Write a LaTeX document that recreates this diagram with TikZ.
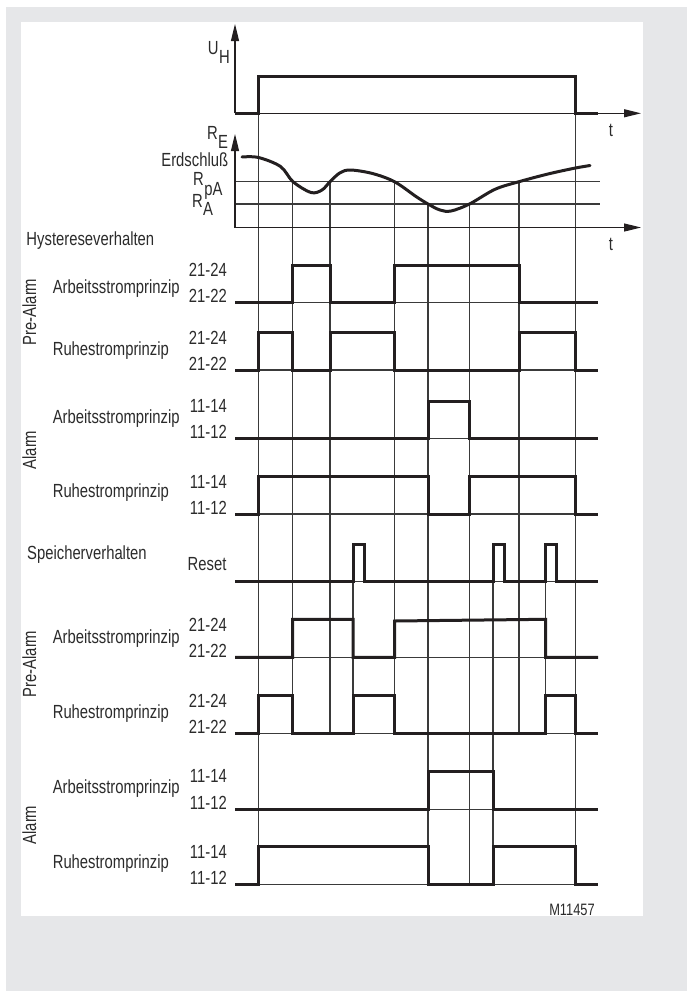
\documentclass[tikz,border=0pt]{standalone}
\usepackage{fontspec}
\setmainfont[FakeStretch=0.78]{Liberation Sans}
\usetikzlibrary{arrows.meta}
\definecolor{bggray}{HTML}{E6E7E9}
\definecolor{sig}{HTML}{231F20}
\definecolor{gridc}{HTML}{3A3A3A}
\definecolor{txt}{HTML}{2B2B2B}
\begin{document}
\begin{tikzpicture}[x=1pt,y=-1pt,
  sigline/.style={line width=3pt, draw=sig, line join=miter, line cap=butt},
  thinline/.style={line width=1.2pt, draw=gridc},
  axisarrow/.style={line width=1.2pt, draw=sig, -{Triangle[length=17pt,width=8pt]}},
  lbl/.style={font=\fontsize{19}{21}\selectfont, text=txt, inner sep=0pt},
  small/.style={font=\fontsize{16.5}{18}\selectfont, text=txt, inner sep=0pt}]
\useasboundingbox (0,0) rectangle (687,991);
\fill[bggray] (6,7) rectangle (687,991);
\fill[white] (21,22) rectangle (643,915.7);

% x positions
\def\Xa{258.5}\def\Xb{292.5}\def\Xc{330}\def\Xd{394.5}
\def\Xe{428}\def\Xf{469.5}\def\Xg{519}\def\Xh{575.5}
\def\Sa{353}\def\Sb{493}\def\Sc{545.5}
\def\Sae{364}\def\Sbe{504}\def\Sce{556.5}
\def\XL{235}\def\XR{598}

% ---------- vertical grid lines ----------
\draw[thinline] (\Xa,76) -- (\Xa,884.5);
\draw[thinline] (\Xh,76) -- (\Xh,884.5);
\foreach \xx in {\Xb,\Xc,\Xd,\Xg} \draw[thinline] (\xx,181.7) -- (\xx,733.3);
\foreach \xx in {\Xe,\Xf} \draw[thinline] (\xx,204) -- (\xx,884.5);
\foreach \xx in {\Sa,\Sc} \draw[thinline] (\xx,544.3) -- (\xx,733.3);
\draw[thinline] (\Sb,544.3) -- (\Sb,884.5);

% ---------- U_H diagram ----------
\coordinate (uo) at (\XL,113.3);
\coordinate (utop) at (\XL,24);
\coordinate (uend) at (641,113.3);
\draw[axisarrow] (uo) -- (utop);
\draw[axisarrow] (uo) -- (uend);
\draw[sigline] (\XL,113.3) -- (\Xa,113.3) -- (\Xa,76) -- (\Xh,76) -- (\Xh,113.3) -- (\XR,113.3);
\node[lbl, anchor=base east] (uh) at (230,54) {U\kern0.5pt\raisebox{-9.5pt}{H}};
\node[lbl, anchor=base] (t1) at (611,136.7) {t};

% ---------- R_E diagram ----------
\coordinate (ro) at (\XL,227.5);
\coordinate (rtop) at (\XL,134);
\coordinate (rend) at (641,227.5);
\draw[thinline] (\XL,181.7) -- (600,181.7);
\draw[thinline] (\XL,204) -- (600,204);
\draw[axisarrow] (ro) -- (rtop);
\draw[axisarrow] (ro) -- (rend);
\draw[sigline, line cap=round, line join=round] plot[smooth, tension=0.55] coordinates {
 (242,157) (258.5,157.5) (280.5,166.5) (293,181.7) (311,192.5) (322,190) (330,181.7)
 (340,172.8) (350.5,170) (372.5,173.5) (394.5,181.7) (416,196.5) (428,204)
 (440,210) (451,211) (469.5,204) (495,189.3) (519,181.7) (548,174) (574,168.3) (590,165.5)};
\node[lbl, anchor=base east] (re) at (228.3,139.5) {R\kern0.5pt\raisebox{-8.5pt}{E}};
\node[lbl, anchor=base east] (erd) at (228.3,166.5) {Erdschluß};
\node[lbl, anchor=base east] (rpa) at (222.7,185) {R\kern0.5pt\raisebox{-10.5pt}{pA}};
\node[lbl, anchor=base east] (ra) at (213.3,207) {R\kern0.5pt\raisebox{-8.5pt}{A}};
\node[lbl, anchor=base] (t2) at (611,250) {t};

% ---------- Hystereseverhalten ----------
\node[lbl, anchor=base west] (hyst) at (26.3,245) {Hystereseverhalten};

% Pre-Alarm Arbeitsstrom (hi 265, lo 302.3)
\draw[thinline] (\XL,302.3) -- (\XR,302.3);
\draw[sigline] (\XL,302.3) -- (\Xb,302.3) -- (\Xb,265) -- (\Xc,265) -- (\Xc,302.3) -- (\Xd,302.3) -- (\Xd,265) -- (\Xg,265) -- (\Xg,302.3) -- (\XR,302.3);
\node[lbl, anchor=base west] (h1) at (52.6,293.7) {Arbeitsstromprinzip};
\node[lbl, anchor=base east] (h1a) at (227,276.7) {21-24};
\node[lbl, anchor=base east] (h1b) at (227,302.3) {21-22};

% Pre-Alarm Ruhestrom (hi 332.3, lo 370)
\draw[thinline] (\XL,370) -- (\XR,370);
\draw[sigline] (\XL,370) -- (\Xa,370) -- (\Xa,332.3) -- (\Xb,332.3) -- (\Xb,370) -- (\Xc,370) -- (\Xc,332.3) -- (\Xd,332.3) -- (\Xd,370) -- (\Xg,370) -- (\Xg,332.3) -- (\Xh,332.3) -- (\Xh,370) -- (\XR,370);
\node[lbl, anchor=base west] (h2) at (52.6,355) {Ruhestromprinzip};
\node[lbl, anchor=base east] (h2a) at (227,344) {21-24};
\node[lbl, anchor=base east] (h2b) at (227,370) {21-22};

% Alarm Arbeitsstrom (hi 401, lo 438.3)
\draw[thinline] (\XL,438.3) -- (\XR,438.3);
\draw[sigline] (\XL,438.3) -- (\Xe,438.3) -- (\Xe,401) -- (\Xf,401) -- (\Xf,438.3) -- (\XR,438.3);
\node[lbl, anchor=base west] (h3) at (52.6,423.3) {Arbeitsstromprinzip};
\node[lbl, anchor=base east] (h3a) at (227,412.7) {11-14};
\node[lbl, anchor=base east] (h3b) at (227,438.3) {11-12};

% Alarm Ruhestrom (hi 476.7, lo 514)
\draw[thinline] (\XL,514) -- (\XR,514);
\draw[sigline] (\XL,514) -- (\Xa,514) -- (\Xa,476.7) -- (\Xe,476.7) -- (\Xe,514) -- (\Xf,514) -- (\Xf,476.7) -- (\Xh,476.7) -- (\Xh,514) -- (\XR,514);
\node[lbl, anchor=base west] (h4) at (52.6,497.3) {Ruhestromprinzip};
\node[lbl, anchor=base east] (h4a) at (227,488.4) {11-14};
\node[lbl, anchor=base east] (h4b) at (227,514) {11-12};

\node[lbl, anchor=base, rotate=90] (pa1) at (36,312) {Pre-Alarm};
\node[lbl, anchor=base, rotate=90] (al1) at (36,450) {Alarm};

% ---------- Speicherverhalten ----------
\node[lbl, anchor=base west] (spei) at (27,559.5) {Speicherverhalten};

% Reset (hi 544.3, lo 581.7)
\draw[thinline] (\XL,581.7) -- (\XR,581.7);
\draw[sigline] (\XL,581.7) -- (\Sa,581.7) -- (\Sa,544.3) -- (\Sae,544.3) -- (\Sae,581.7) -- (\Sb,581.7) -- (\Sb,544.3) -- (\Sbe,544.3) -- (\Sbe,581.7) -- (\Sc,581.7) -- (\Sc,544.3) -- (\Sce,544.3) -- (\Sce,581.7) -- (\XR,581.7);
\node[lbl, anchor=base east] (reset) at (226.6,570.7) {Reset};

% Pre-Alarm Arbeitsstrom (hi 619.3, lo 657.3)
\draw[thinline] (\XL,657.3) -- (\XR,657.3);
\draw[sigline] (\XL,657.3) -- (\Xb,657.3) -- (\Xb,619.3) -- (\Sa,619.3) -- (\Sa,657.3) -- (\Xd,657.3) -- (\Xd,621) -- (\Sc,619.3) -- (\Sc,657.3) -- (\XR,657.3);
\node[lbl, anchor=base west] (s1) at (52.6,643.5) {Arbeitsstromprinzip};
\node[lbl, anchor=base east] (s1a) at (227,631.5) {21-24};
\node[lbl, anchor=base east] (s1b) at (227,657.3) {21-22};

% Pre-Alarm Ruhestrom (hi 695, lo 733.3)
\draw[thinline] (\XL,733.3) -- (\XR,733.3);
\draw[sigline] (\XL,733.3) -- (\Xa,733.3) -- (\Xa,695) -- (\Xb,695) -- (\Xb,733.3) -- (\Sa,733.3) -- (\Sa,695) -- (\Xd,695) -- (\Xd,733.3) -- (\Sc,733.3) -- (\Sc,695) -- (\Xh,695) -- (\Xh,733.3) -- (\XR,733.3);
\node[lbl, anchor=base west] (s2) at (52.6,718.5) {Ruhestromprinzip};
\node[lbl, anchor=base east] (s2a) at (227,707) {21-24};
\node[lbl, anchor=base east] (s2b) at (227,733.3) {21-22};

% Alarm Arbeitsstrom (hi 771, lo 809.3)
\draw[thinline] (\XL,809.3) -- (\XR,809.3);
\draw[sigline] (\XL,809.3) -- (\Xe,809.3) -- (\Xe,771) -- (\Sb,771) -- (\Sb,809.3) -- (\XR,809.3);
\node[lbl, anchor=base west] (s3) at (52.6,793.5) {Arbeitsstromprinzip};
\node[lbl, anchor=base east] (s3a) at (227,782.7) {11-14};
\node[lbl, anchor=base east] (s3b) at (227,809.3) {11-12};

% Alarm Ruhestrom (hi 846.7, lo 884.5)
\draw[thinline] (\XL,884.5) -- (\XR,884.5);
\draw[sigline] (\XL,884.5) -- (\Xa,884.5) -- (\Xa,846.7) -- (\Xe,846.7) -- (\Xe,884.5) -- (\Sb,884.5) -- (\Sb,846.7) -- (\Xh,846.7) -- (\Xh,884.5) -- (\XR,884.5);
\node[lbl, anchor=base west] (s4) at (52.6,868.5) {Ruhestromprinzip};
\node[lbl, anchor=base east] (s4a) at (227,858.4) {11-14};
\node[lbl, anchor=base east] (s4b) at (227,884.5) {11-12};

\node[lbl, anchor=base, rotate=90] (pa2) at (36,664) {Pre-Alarm};
\node[lbl, anchor=base, rotate=90] (al2) at (36,825) {Alarm};

\node[small, anchor=base east] (code) at (595,915) {M11457};
\end{tikzpicture}
\end{document}
